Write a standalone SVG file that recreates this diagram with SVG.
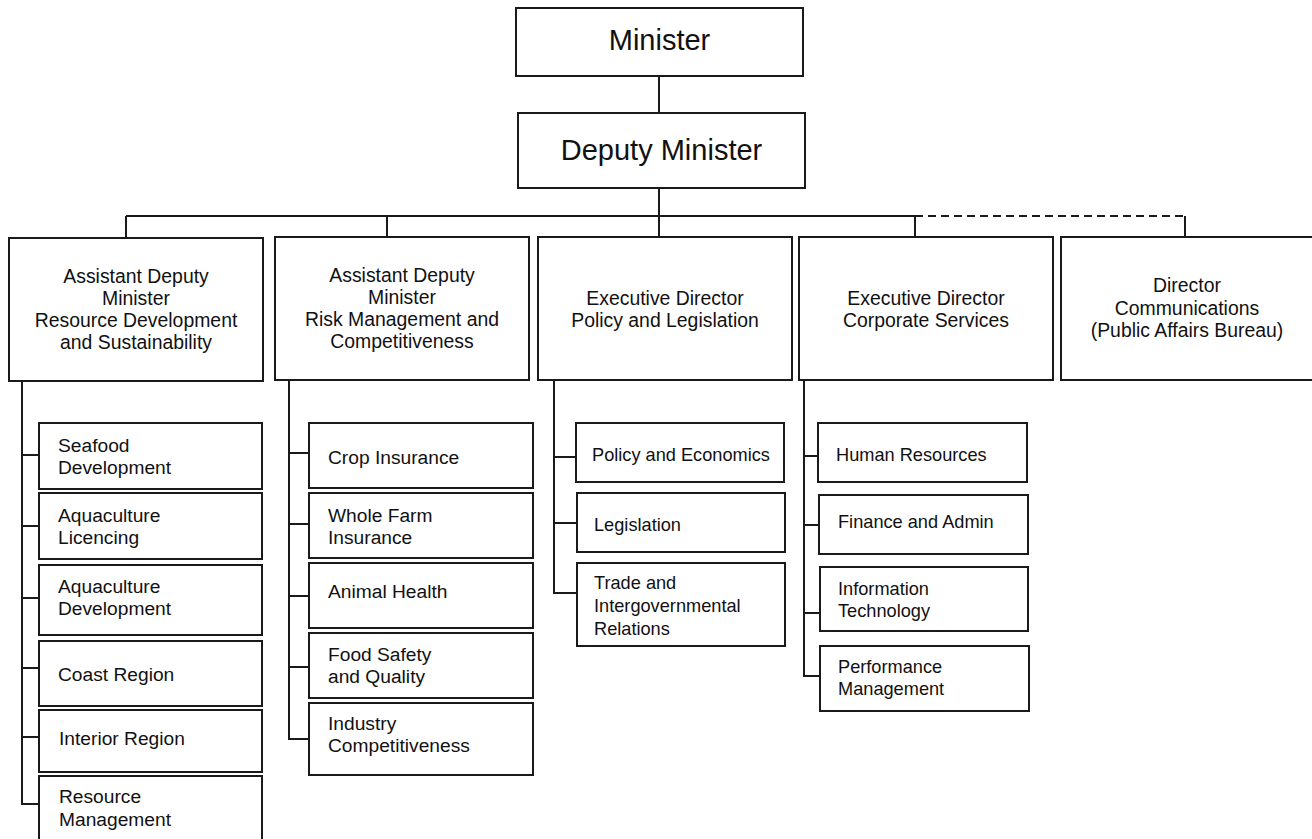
<svg xmlns="http://www.w3.org/2000/svg" width="1312" height="839" viewBox="0 0 1312 839">
<style>
rect.b{fill:#fff;stroke:#1a1a1a;stroke-width:2}
.c line,.c polyline{stroke:#1a1a1a;stroke-width:2;fill:none}
.c .d{stroke-dasharray:8 5}
text{font-family:"Liberation Sans",Arial,sans-serif;fill:#111}
.t29{font-size:29px;text-anchor:middle}
.t2{font-size:19.4px;text-anchor:middle}
.t19{font-size:19.2px}
.t18{font-size:18.2px}
</style>
<rect width="1312" height="839" fill="#fff"/>
<g class="c" id="connectors">
<line x1="659" y1="76" x2="659" y2="113"/>
<line x1="659" y1="188" x2="659" y2="237"/>
<line x1="126" y1="216" x2="915" y2="216"/>
<line class="d" x1="915" y1="216" x2="1185" y2="216"/>
<line x1="126" y1="216" x2="126" y2="238"/>
<line x1="387" y1="216" x2="387" y2="237"/>
<line x1="915" y1="216" x2="915" y2="237"/>
<line x1="1185" y1="216" x2="1185" y2="237"/>
<polyline points="22,381 22,804 39,804"/>
<line x1="22" y1="455" x2="39" y2="455"/>
<line x1="22" y1="526" x2="39" y2="526"/>
<line x1="22" y1="598" x2="39" y2="598"/>
<line x1="22" y1="668" x2="39" y2="668"/>
<line x1="22" y1="737" x2="39" y2="737"/>
<polyline points="289,380 289,739 309,739"/>
<line x1="289" y1="453" x2="309" y2="453"/>
<line x1="289" y1="524" x2="309" y2="524"/>
<line x1="289" y1="596" x2="309" y2="596"/>
<line x1="289" y1="667" x2="309" y2="667"/>
<polyline points="554,380 554,593 577,593"/>
<line x1="554" y1="457" x2="576" y2="457"/>
<line x1="554" y1="523" x2="577" y2="523"/>
<polyline points="804,380 804,676 820,676"/>
<line x1="804" y1="456" x2="818" y2="456"/>
<line x1="804" y1="525" x2="819" y2="525"/>
<line x1="804" y1="613" x2="820" y2="613"/>
</g>
<g id="minister"><rect class="b" x="516" y="8" width="287" height="68"/><text class="t29" x="659.5" y="50">Minister</text></g>
<g id="deputy-minister"><rect class="b" x="518" y="113" width="287" height="75"/><text class="t29" x="661.5" y="160">Deputy Minister</text></g>
<g id="adm-rds"><rect class="b" x="9" y="238" width="254" height="143"/><text class="t2" x="136" y="283"><tspan x="136">Assistant Deputy</tspan><tspan x="136" dy="22">Minister</tspan><tspan x="136" dy="22">Resource Development</tspan><tspan x="136" dy="22">and Sustainability</tspan></text></g>
<g id="adm-rmc"><rect class="b" x="275" y="237" width="254" height="143"/><text class="t2" x="402" y="282"><tspan x="402">Assistant Deputy</tspan><tspan x="402" dy="22">Minister</tspan><tspan x="402" dy="22">Risk Management and</tspan><tspan x="402" dy="22">Competitiveness</tspan></text></g>
<g id="ed-pl"><rect class="b" x="538" y="237" width="254" height="143"/><text class="t2" x="665" y="305"><tspan x="665">Executive Director</tspan><tspan x="665" dy="22">Policy and Legislation</tspan></text></g>
<g id="ed-cs"><rect class="b" x="799" y="237" width="254" height="143"/><text class="t2" x="926" y="305"><tspan x="926">Executive Director</tspan><tspan x="926" dy="22">Corporate Services</tspan></text></g>
<g id="dir-comm"><rect class="b" x="1061" y="237" width="256" height="143"/><text class="t2" x="1187" y="292"><tspan x="1187">Director</tspan><tspan x="1187" dy="22.5">Communications</tspan><tspan x="1187" dy="22.5">(Public Affairs Bureau)</tspan></text></g>
<g id="seafood"><rect class="b" x="39" y="423" width="223" height="66"/><text class="t19" x="58" y="452"><tspan x="58">Seafood</tspan><tspan x="58" dy="21.5">Development</tspan></text></g>
<g id="aqua-lic"><rect class="b" x="39" y="493" width="223" height="66"/><text class="t19" x="58" y="522"><tspan x="58">Aquaculture</tspan><tspan x="58" dy="21.5">Licencing</tspan></text></g>
<g id="aqua-dev"><rect class="b" x="39" y="565" width="223" height="70"/><text class="t19" x="58" y="593"><tspan x="58">Aquaculture</tspan><tspan x="58" dy="22">Development</tspan></text></g>
<g id="coast"><rect class="b" x="39" y="641" width="223" height="65"/><text class="t19" x="58" y="681">Coast Region</text></g>
<g id="interior"><rect class="b" x="39" y="710" width="223" height="62"/><text class="t19" x="59" y="745">Interior Region</text></g>
<g id="resource-mgmt"><rect class="b" x="39" y="776" width="223" height="70"/><text class="t19" x="59" y="803"><tspan x="59">Resource</tspan><tspan x="59" dy="23">Management</tspan></text></g>
<g id="crop"><rect class="b" x="309" y="423" width="224" height="65"/><text class="t19" x="328" y="464">Crop Insurance</text></g>
<g id="whole-farm"><rect class="b" x="309" y="493" width="224" height="65"/><text class="t19" x="328" y="522"><tspan x="328">Whole Farm</tspan><tspan x="328" dy="21.5">Insurance</tspan></text></g>
<g id="animal"><rect class="b" x="309" y="563" width="224" height="65"/><text class="t19" x="328" y="598">Animal Health</text></g>
<g id="food-safety"><rect class="b" x="309" y="633" width="224" height="65"/><text class="t19" x="328" y="661"><tspan x="328">Food Safety</tspan><tspan x="328" dy="21.5">and Quality</tspan></text></g>
<g id="industry"><rect class="b" x="309" y="703" width="224" height="72"/><text class="t19" x="328" y="730"><tspan x="328">Industry</tspan><tspan x="328" dy="22">Competitiveness</tspan></text></g>
<g id="policy-econ"><rect class="b" x="576" y="423" width="208" height="59"/><text class="t18" x="592" y="461">Policy and Economics</text></g>
<g id="legislation"><rect class="b" x="577" y="493" width="208" height="59"/><text class="t18" x="594" y="531">Legislation</text></g>
<g id="trade"><rect class="b" x="577" y="563" width="208" height="83"/><text class="t18" x="594" y="589"><tspan x="594">Trade and</tspan><tspan x="594" dy="22.5">Intergovernmental</tspan><tspan x="594" dy="23.5">Relations</tspan></text></g>
<g id="hr"><rect class="b" x="818" y="423" width="209" height="59"/><text class="t18" x="836" y="461">Human Resources</text></g>
<g id="finance"><rect class="b" x="819" y="495" width="209" height="59"/><text class="t18" x="838" y="528">Finance and Admin</text></g>
<g id="it"><rect class="b" x="820" y="567" width="208" height="64"/><text class="t18" x="838" y="595"><tspan x="838">Information</tspan><tspan x="838" dy="22">Technology</tspan></text></g>
<g id="perf"><rect class="b" x="820" y="646" width="209" height="65"/><text class="t18" x="838" y="673"><tspan x="838">Performance</tspan><tspan x="838" dy="22">Management</tspan></text></g>
</svg>
